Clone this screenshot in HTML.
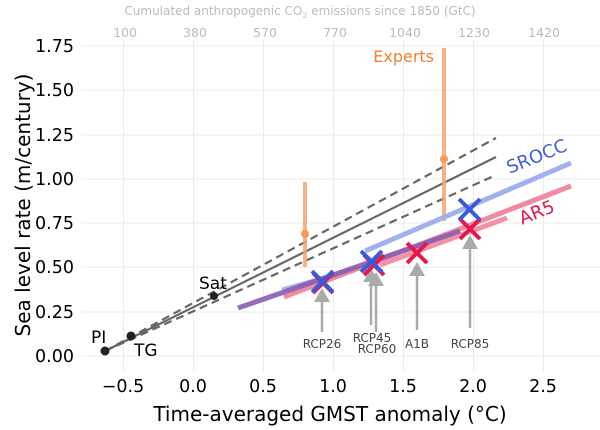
<!DOCTYPE html>
<html><head><meta charset="utf-8"><style>
body{margin:0;background:#fff}
svg{display:block;font-family:"DejaVu Sans","Liberation Sans",sans-serif}
</style></head><body>
<svg width="600" height="430" viewBox="0 0 600 430">
<g stroke="#ebebeb" stroke-width="1">
<line x1="81" y1="356" x2="600" y2="356"/><line x1="81" y1="312" x2="600" y2="312"/>
<line x1="81" y1="267" x2="600" y2="267"/><line x1="81" y1="223" x2="600" y2="223"/>
<line x1="81" y1="179" x2="600" y2="179"/><line x1="81" y1="135" x2="600" y2="135"/>
<line x1="81" y1="90" x2="600" y2="90"/><line x1="81" y1="46" x2="600" y2="46"/>
<line x1="123.5" y1="40" x2="123.5" y2="372"/><line x1="193.5" y1="40" x2="193.5" y2="372"/>
<line x1="263.5" y1="40" x2="263.5" y2="372"/><line x1="333.5" y1="40" x2="333.5" y2="372"/>
<line x1="403.5" y1="40" x2="403.5" y2="372"/><line x1="473.5" y1="40" x2="473.5" y2="372"/>
<line x1="543.5" y1="40" x2="543.5" y2="372"/>
</g>
<text x="300" y="15" font-size="12" fill="#bbb" text-anchor="middle">Cumulated anthropogenic CO<tspan font-size="8" dy="3">2</tspan><tspan dy="-3"> emissions since 1850 (GtC)</tspan></text>
<g font-size="12.5" fill="#bbb" text-anchor="middle">
<text x="125" y="37">100</text><text x="195" y="37">380</text><text x="265" y="37">570</text>
<text x="335" y="37">770</text><text x="405" y="37">1040</text><text x="474" y="37">1230</text><text x="544" y="37">1420</text>
</g>
<g font-size="17.5" fill="#000" text-anchor="end">
<text x="74" y="362">0.00</text><text x="74" y="318">0.25</text><text x="74" y="273">0.50</text>
<text x="74" y="229">0.75</text><text x="74" y="185">1.00</text><text x="74" y="141">1.25</text>
<text x="74" y="96">1.50</text><text x="74" y="52">1.75</text>
</g>
<g font-size="17.5" fill="#000" text-anchor="middle">
<text x="123" y="392">−0.5</text><text x="193" y="392">0.0</text><text x="263" y="392">0.5</text>
<text x="333" y="392">1.0</text><text x="403" y="392">1.5</text><text x="473" y="392">2.0</text><text x="543" y="392">2.5</text>
</g>
<text x="330" y="421" font-size="20" text-anchor="middle">Time-averaged GMST anomaly (°C)</text>
<text transform="translate(30,205) rotate(-90)" font-size="20" text-anchor="middle">Sea level rate (m/century)</text>
<g stroke="#666" stroke-width="2.2" fill="none">
<line x1="105" y1="351" x2="496" y2="157"/>
<line x1="105" y1="351" x2="496" y2="138" stroke-dasharray="8,5"/>
<line x1="105" y1="351" x2="496" y2="175" stroke-dasharray="8,5"/>
</g>
<g fill="#222"><circle cx="105" cy="351" r="4.5"/><circle cx="131" cy="336" r="4.5"/><circle cx="214" cy="296" r="4"/></g>
<g font-size="17" fill="#000"><text x="91" y="343">PI</text><text x="134" y="356">TG</text><text x="199" y="289">Sat</text></g>
<g stroke="#f6a46d" stroke-width="4" opacity="0.85">
<line x1="305" y1="182" x2="305" y2="267"/><line x1="444" y1="48" x2="444" y2="221"/>
</g>
<g fill="#f59a5a"><circle cx="305" cy="234" r="4"/><circle cx="444" cy="159" r="4"/></g>
<text x="434" y="62" font-size="16" fill="#f57f2a" text-anchor="end">Experts</text>
<g stroke-width="5" fill="none">
<line x1="282" y1="290" x2="380" y2="262" stroke="#a6b5ef"/>
<line x1="365" y1="251" x2="571" y2="163" stroke="#a0b1ee"/>
<line x1="284" y1="297" x2="571" y2="186" stroke="#f08aa0"/>
<line x1="380" y1="265" x2="507" y2="218" stroke="#f292a6"/>
<line x1="238" y1="308" x2="460" y2="231" stroke="#8a5cb0" opacity="0.9"/>
</g>
<text transform="translate(539,162) rotate(-22)" font-size="18" fill="#3f5ed8" text-anchor="middle">SROCC</text>
<text transform="translate(539,218) rotate(-22)" font-size="18" fill="#e2194b" text-anchor="middle">AR5</text>
<g stroke="#aaa" stroke-width="2.5">
<line x1="322" y1="332" x2="322" y2="298"/><line x1="371" y1="325" x2="371" y2="278"/>
<line x1="376" y1="332" x2="376" y2="282"/><line x1="417" y1="330" x2="417" y2="272"/>
<line x1="470" y1="328" x2="470" y2="245"/>
</g>
<g fill="#aaa">
<polygon points="322,288 314,302 330,302"/><polygon points="371,268 363,282 379,282"/>
<polygon points="376,272 368,286 384,286"/><polygon points="417,262 409,276 425,276"/>
<polygon points="470,235 462,249 478,249"/>
</g>
<g font-size="12" fill="#444" text-anchor="middle">
<text x="322" y="348">RCP26</text><text x="372" y="342">RCP45</text><text x="377" y="353">RCP60</text>
<text x="417" y="348">A1B</text><text x="470" y="348">RCP85</text>
</g>
<g stroke-width="4">
<g stroke="#e2194b">
<path d="M313,273 l20,20 M333,273 l-20,20"/>
<path d="M364,255 l20,20 M384,255 l-20,20"/>
<path d="M407,243 l20,20 M427,243 l-20,20"/>
<path d="M460,219 l20,20 M480,219 l-20,20"/>
</g>
<g stroke="#3a5ad8">
<path d="M312,271 l21,21 M333,271 l-21,21"/>
<path d="M361,251 l21,21 M382,251 l-21,21"/>
<path d="M459,199 l21,21 M480,199 l-21,21"/>
</g>
</g>
</svg>
</body></html>
